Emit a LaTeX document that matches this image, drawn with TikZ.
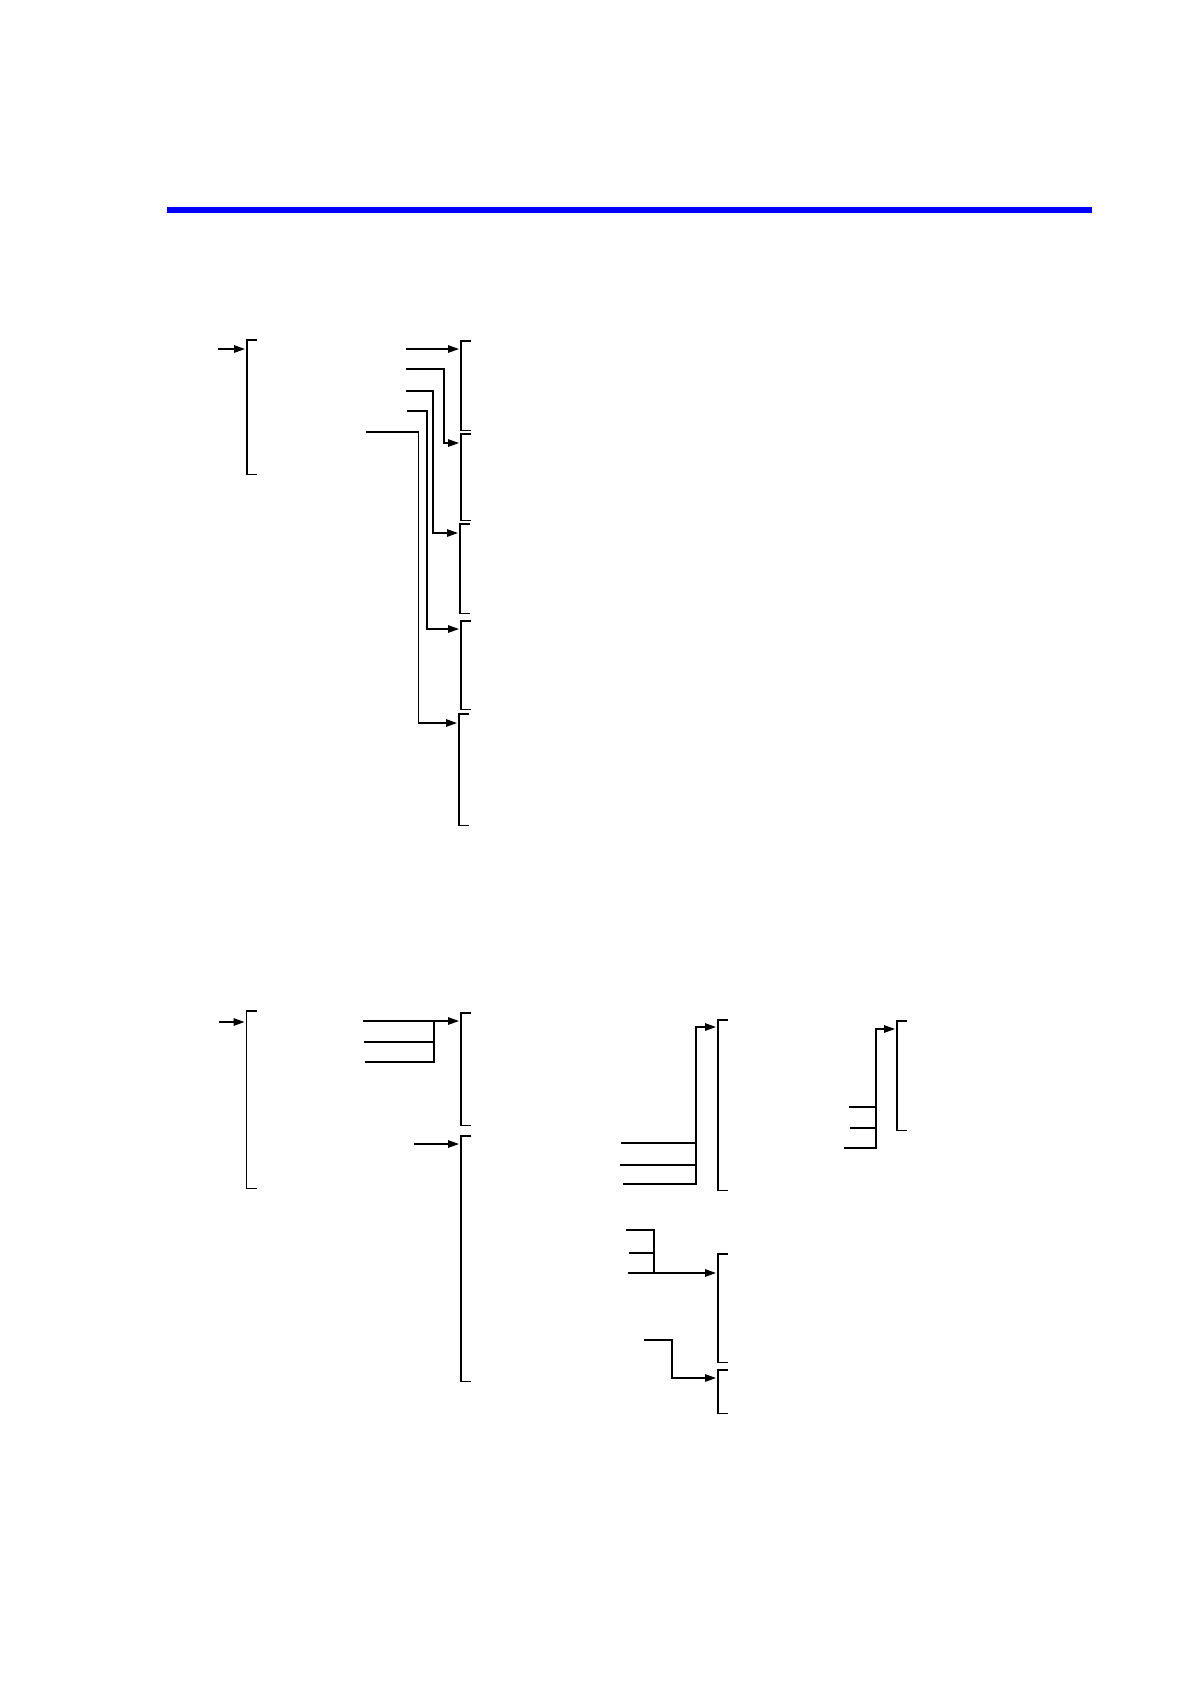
\documentclass[tikz,border=0pt]{standalone}
\usepackage{amsmath, amssymb}
\usepackage{tikz}
\usepackage{xcolor}
\usetikzlibrary{arrows.meta}

\begin{document}
\begin{tikzpicture}[x=1pt, y=-1pt, line width=1.4pt,
    brk/.style={inner sep=0pt, minimum width=9pt, anchor=north west},
    arr/.style={-{Triangle[length=11pt, width=7.5pt]}, shorten >=2pt}]
    \useasboundingbox (0,0) rectangle (1190,1684);
    \fill[blue] (167,206.7) rectangle (1092,212.7);

    % brackets
    \node[brk, minimum height=133pt] (t1) at (247,340) {};
    \node[brk, minimum height=88pt]  (t2) at (461,341) {};
    \node[brk, minimum height=85pt]  (t3) at (461,434) {};
    \node[brk, minimum height=88pt]  (t4) at (460,524) {};
    \node[brk, minimum height=87pt]  (t5) at (461,621) {};
    \node[brk, minimum height=110pt] (t6) at (459,714) {};
    \node[brk, minimum height=176pt] (b1) at (246.5,1011) {};
    \node[brk, minimum height=111pt] (m1) at (461,1013) {};
    \node[brk, minimum height=244pt] (m2) at (461,1136) {};
    \node[brk, minimum height=169pt] (r1) at (718,1020) {};
    \node[brk, minimum height=108pt] (r2) at (897,1021) {};
    \node[brk, minimum height=107pt] (r3) at (718,1254) {};
    \node[brk, minimum height=42pt]  (r4) at (718,1370) {};
    \foreach \b in {t1,t2,t3,t4,t5,t6,b1,m1,m2,r1,r2,r3,r4}
        \draw (\b.north east) -| (\b.south west) -- (\b.south east);

    % upper part
    \coordinate (a0) at (218,349);
    \coordinate (a1) at (406,349);
    \coordinate (a2) at (406,369);
    \coordinate (a3) at (406,391);
    \coordinate (a4) at (407,411);
    \coordinate (a5) at (366,432);
    \coordinate (k2) at (444,443);
    \coordinate (k3) at (433,533);
    \coordinate (k4) at (427,629);
    \coordinate (k5) at (418.5,723);
    \draw[arr] (a0) -- (a0 -| t1.west);
    \draw[arr] (a1) -- (a1 -| t2.west);
    \draw[arr] (a2) -| (k2) -- (k2 -| t3.west);
    \draw[arr] (a3) -| (k3) -- (k3 -| t4.west);
    \draw[arr] (a4) -| (k4) -- (k4 -| t5.west);
    \draw[arr] (a5) -| (k5) -- (k5 -| t6.west);

    % lower part
    \coordinate (c0) at (219,1022);
    \coordinate (m1a) at (363,1021);
    \coordinate (m1b) at (364,1042);
    \coordinate (m1c) at (365,1062);
    \coordinate (j1) at (434,1062);
    \coordinate (m2a) at (414,1144);
    \draw[arr] (c0) -- (c0 -| b1.west);
    \draw[arr] (m1a) -- (m1a -| m1.west);
    \draw (m1b) -- (m1b -| j1);
    \draw (m1c) -| (j1 |- m1a);
    \draw[arr] (m2a) -- (m2a -| m2.west);

    \coordinate (r1a) at (621,1143);
    \coordinate (r1b) at (620,1165);
    \coordinate (r1c) at (623,1184);
    \coordinate (j2) at (696,1027);
    \draw (r1a) -- (r1a -| j2);
    \draw (r1b) -- (r1b -| j2);
    \draw[arr] (r1c) -| (j2) -- (j2 -| r1.west);

    \coordinate (r2a) at (849,1107);
    \coordinate (r2b) at (850,1128);
    \coordinate (r2c) at (844,1148);
    \coordinate (j3) at (876,1029);
    \draw (r2a) -- (r2a -| j3);
    \draw (r2b) -- (r2b -| j3);
    \draw[arr] (r2c) -| (j3) -- (j3 -| r2.west);

    \coordinate (r3a) at (626,1230);
    \coordinate (r3b) at (629,1253);
    \coordinate (r3c) at (628,1273);
    \coordinate (j4) at (654,1230);
    \draw (r3a) -| (j4 |- r3c);
    \draw (r3b) -- (r3b -| j4);
    \draw[arr] (r3c) -- (r3c -| r3.west);

    \coordinate (r4a) at (644,1340);
    \coordinate (k6) at (672,1378);
    \draw[arr] (r4a) -| (k6) -- (k6 -| r4.west);
\end{tikzpicture}
\end{document}
